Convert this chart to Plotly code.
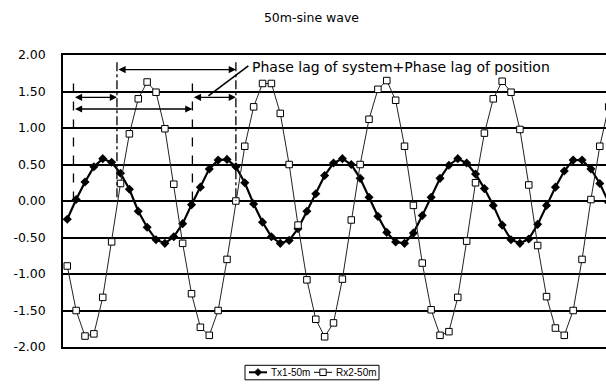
import plotly.graph_objects as go

# Sample index along the horizontal axis
samples = list(range(62))

# Transmitted signal (Tx1-50m)
tx1 = [-0.25, 0.02, 0.26, 0.47, 0.58, 0.53, 0.38, 0.16, -0.14, -0.36,
       -0.53, -0.58, -0.49, -0.31, -0.05, 0.19, 0.44, 0.56, 0.57, 0.47,
       0.25, -0.04, -0.29, -0.49, -0.58, -0.54, -0.38, -0.14, 0.10, 0.35,
       0.52, 0.58, 0.50, 0.31, 0.05, -0.21, -0.43, -0.56, -0.58, -0.44,
       -0.20, 0.05, 0.31, 0.49, 0.58, 0.52, 0.37, 0.17, -0.06, -0.33,
       -0.53, -0.58, -0.52, -0.32, -0.06, 0.19, 0.41, 0.56, 0.56, 0.44,
       0.24, -0.02]

# Received signal (Rx2-50m)
rx2 = [-0.89, -1.50, -1.85, -1.82, -1.32, -0.56, 0.24, 0.92, 1.40, 1.63,
       1.49, 0.99, 0.23, -0.58, -1.27, -1.73, -1.84, -1.50, -0.80, 0.00,
       0.75, 1.29, 1.61, 1.61, 1.20, 0.50, -0.33, -1.08, -1.62, -1.86,
       -1.67, -1.07, -0.26, 0.50, 1.12, 1.53, 1.65, 1.38, 0.75, -0.06,
       -0.85, -1.49, -1.84, -1.79, -1.32, -0.55, 0.25, 0.93, 1.40, 1.64,
       1.49, 0.98, 0.22, -0.61, -1.31, -1.74, -1.84, -1.50, -0.80, 0.02,
       0.75, 1.29]

series_names = ["Tx1-50m", "Rx2-50m"]

y_ticks = [2.0, 1.5, 1.0, 0.5, 0.0, -0.5, -1.0, -1.5, -2.0]
y_tick_text = ["2.00", "1.50", "1.00", "0.50", "0.00", "-0.50", "-1.00", "-1.50", "-2.00"]

# Zero crossings used for the phase-lag markers (sample index units)
tx_cross = [0.7, 14.1]
rx_cross = [5.6, 19.0]

FONT = "Liberation Sans, Arial, sans-serif"
WIDE = "DejaVu Sans, sans-serif"

W, H = 606, 389
ML, MR, MT, MB = 63, 0, 54.7, 42.3
PW, PH = W - ML - MR, H - MT - MB


def px(xp):
    """Pixel column -> paper x."""
    return (xp - ML) / PW


def py(yp):
    """Pixel row -> paper y."""
    return (H - MB - yp) / PH


fig = go.Figure()
fig.add_trace(go.Scatter(
    x=samples, y=tx1, mode="lines+markers", name=series_names[0],
    line=dict(color="black", width=2.2),
    marker=dict(symbol="diamond", size=7, color="black"),
))
fig.add_trace(go.Scatter(
    x=samples, y=rx2, mode="lines+markers", name=series_names[1],
    line=dict(color="#222", width=1),
    marker=dict(symbol="square", size=6.5, color="white",
                line=dict(color="black", width=1)),
))

shapes = []
# vertical guide lines at the zero crossings
for xc in tx_cross:
    shapes.append(dict(type="line", xref="x", yref="y", x0=xc, x1=xc, y0=1.61, y1=-0.05,
                       line=dict(color="black", width=1.3, dash="dash")))
for xc in rx_cross:
    shapes.append(dict(type="line", xref="x", yref="y", x0=xc, x1=xc, y0=1.90, y1=0.0,
                       line=dict(color="black", width=1.3, dash="dashdot")))
# leader line to the label
shapes.append(dict(type="line", xref="x", yref="y", x0=15.9, x1=20.4, y0=1.44, y1=1.85,
                   line=dict(color="black", width=1.6)))

annotations = []


def double_arrow(x0, x1, y):
    annotations.append(dict(
        x=x1, y=y, ax=x0, ay=y, xref="x", yref="y", axref="x", ayref="y",
        text="", showarrow=True, arrowhead=2, arrowside="end+start",
        arrowsize=1.1, arrowwidth=1.3, arrowcolor="black", standoff=0, startstandoff=0,
    ))


double_arrow(tx_cross[0], rx_cross[0], 1.42)
double_arrow(tx_cross[0], tx_cross[1], 1.26)
double_arrow(rx_cross[0], rx_cross[1], 1.80)
double_arrow(tx_cross[1], rx_cross[1], 1.42)

annotations.append(dict(
    x=20.6, y=1.84, xref="x", yref="y", xanchor="left", yanchor="middle",
    text="Phase lag of system+Phase lag of position", showarrow=False,
    font=dict(family=WIDE, size=14, color="black"),
))

# ---- compact legend box below the plot ----
LY = 372  # legend row centre (px)
shapes.append(dict(type="rect", xref="paper", yref="paper",
                   x0=px(245), x1=px(379), y0=py(365), y1=py(379.5),
                   line=dict(color="black", width=1), fillcolor="white"))
# Tx entry: thick line with filled diamond
shapes.append(dict(type="line", xref="paper", yref="paper",
                   x0=px(249), x1=px(267), y0=py(LY), y1=py(LY),
                   line=dict(color="black", width=2)))
cx, r = 258, 3.8
shapes.append(dict(type="path", xref="paper", yref="paper",
                   path=(f"M {px(cx - r)} {py(LY)} L {px(cx)} {py(LY - r)} "
                         f"L {px(cx + r)} {py(LY)} L {px(cx)} {py(LY + r)} Z"),
                   fillcolor="black", line=dict(color="black", width=0.5)))
# Rx entry: thin line with open square
shapes.append(dict(type="line", xref="paper", yref="paper",
                   x0=px(314), x1=px(332), y0=py(LY), y1=py(LY),
                   line=dict(color="black", width=1)))
cx, r = 323, 3.2
shapes.append(dict(type="rect", xref="paper", yref="paper",
                   x0=px(cx - r), x1=px(cx + r), y0=py(LY - r), y1=py(LY + r),
                   fillcolor="white", line=dict(color="black", width=1)))
for name, xl in zip(series_names, [269, 334]):
    annotations.append(dict(x=px(xl), y=py(LY), xref="paper", yref="paper",
                            xanchor="left", yanchor="middle", text=name, showarrow=False,
                            font=dict(family=FONT, size=10, color="black")))

fig.update_layout(
    width=W, height=H,
    margin=dict(l=ML, r=MR, t=MT, b=MB, autoexpand=False),
    paper_bgcolor="white", plot_bgcolor="white",
    title=dict(text="50m-sine wave", x=0.514, xref="container", xanchor="center",
               y=1 - 17.5 / H, yref="container", yanchor="middle",
               font=dict(family=WIDE, size=12.5, color="black")),
    shapes=shapes, annotations=annotations,
    showlegend=False,
    xaxis=dict(range=[-0.48, 60.7], showticklabels=False, showgrid=False, zeroline=False,
               showline=True, linecolor="black", linewidth=1.5, mirror=True, ticks=""),
    yaxis=dict(range=[-2, 2], tickvals=y_ticks, ticktext=y_tick_text,
               showgrid=True, gridcolor="black", gridwidth=1.6, zeroline=False,
               showline=True, linecolor="black", linewidth=1.5, mirror=True,
               ticks="", ticklabelstandoff=13,
               tickfont=dict(family=WIDE, size=12.5, color="black")),
)

fig.write_html("out.html")
